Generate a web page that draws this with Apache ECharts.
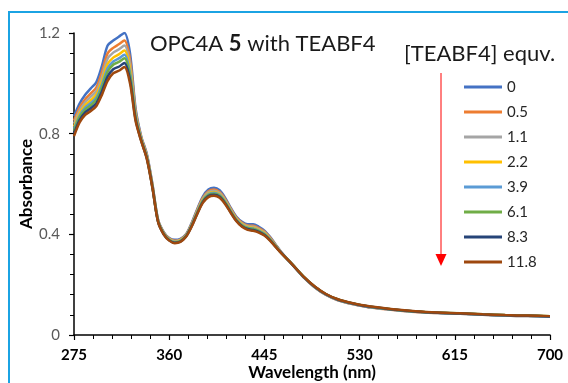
<!DOCTYPE html>
<html>
<head>
<meta charset="utf-8">
<script src="https://cdn.jsdelivr.net/npm/echarts@6/dist/echarts.min.js"></script>
<style>
  html, body { margin: 0; padding: 0; background: #fff; }
  #chart { width: 568px; height: 383px; }
</style>
</head>
<body>
<div id="chart"></div>
<script>
const wavelengths = [275, 280, 285, 290, 295, 300, 305, 310, 315, 320, 325, 330, 335, 340, 345, 350, 355, 360, 365, 370,
  375, 380, 385, 390, 395, 400, 405, 410, 415, 420, 425, 430, 435, 440, 445, 450, 455, 460,
  470, 480, 490, 500, 510, 520, 530, 540, 560, 580, 600, 620, 640, 660, 680, 700]

const equivNames = ['0', '0.5', '1.1', '2.2', '3.9', '6.1', '8.3', '11.8']
const colors = ['#4472C4', '#ED7D31', '#A5A5A5', '#FFC000', '#5B9BD5', '#70AD47', '#264478', '#9E480E']

const abs0 = [.870, .920, .955, .980, 1.005, 1.070, 1.150, 1.170, 1.185, 1.200, 1.120, .900, .790, .720, .600, .460, .410, .385, .378, .382,
  .400, .445, .500, .550, .578, .585, .575, .545, .505, .470, .450, .440, .440, .430, .415, .390, .360, .330,
  .280, .230, .190, .160, .140, .127, .118, .110, .100, .092, .088, .085, .081, .078, .076, .074]
const abs05 = [.852, .904, .937, .960, .984, 1.045, 1.119, 1.141, 1.155, 1.170, 1.094, .889, .786, .716, .597, .458, .408, .383, .375, .379,
  .398, .442, .496, .545, .571, .578, .568, .540, .501, .466, .446, .435, .434, .425, .411, .387, .358, .329,
  .279, .229, .189, .159, .139, .126, .117, .109, .099, .091, .087, .084, .080, .077, .075, .073]
const abs11 = [.840, .892, .925, .947, .970, 1.027, 1.098, 1.122, 1.135, 1.150, 1.076, .882, .783, .713, .594, .456, .406, .381, .373, .378,
  .396, .439, .493, .541, .567, .573, .564, .536, .498, .463, .443, .432, .430, .421, .408, .384, .356, .328,
  .281, .231, .191, .161, .141, .128, .119, .111, .101, .093, .088, .085, .081, .078, .076, .074]
const abs22 = [.828, .881, .913, .933, .956, 1.010, 1.077, 1.102, 1.115, 1.130, 1.058, .874, .780, .710, .592, .455, .405, .380, .371, .376,
  .395, .437, .490, .537, .562, .568, .559, .532, .495, .461, .440, .429, .426, .418, .405, .382, .355, .327,
  .280, .231, .192, .162, .142, .128, .119, .111, .101, .093, .088, .085, .081, .078, .076, .075]
const abs39 = [.819, .872, .904, .922, .944, .996, 1.060, 1.087, 1.099, 1.114, 1.043, .868, .777, .707, .590, .454, .404, .379, .370, .374,
  .394, .435, .487, .534, .559, .565, .556, .529, .492, .458, .437, .426, .423, .415, .402, .380, .354, .327,
  .279, .230, .190, .160, .140, .127, .118, .110, .100, .092, .087, .084, .080, .077, .075, .073]
const abs61 = [.811, .865, .896, .913, .935, .985, 1.046, 1.074, 1.085, 1.100, 1.031, .863, .775, .705, .589, .453, .403, .378, .368, .373,
  .393, .434, .485, .532, .556, .561, .553, .527, .490, .457, .435, .424, .421, .413, .400, .379, .353, .326,
  .281, .232, .192, .162, .142, .129, .120, .112, .101, .093, .089, .086, .082, .079, .077, .075]
const abs83 = [.800, .854, .885, .901, .921, .969, 1.027, 1.056, 1.066, 1.081, 1.014, .856, .772, .702, .587, .451, .401, .376, .367, .371,
  .391, .432, .482, .528, .552, .557, .549, .523, .487, .454, .432, .421, .417, .410, .397, .377, .351, .326,
  .280, .231, .192, .162, .142, .129, .119, .112, .101, .093, .088, .085, .081, .078, .076, .074]
const abs118 = [.790, .845, .875, .890, .910, .955, 1.010, 1.040, 1.050, 1.065, 1.000, .850, .770, .700, .585, .450, .400, .375, .365, .370,
  .390, .430, .480, .525, .548, .553, .545, .520, .485, .452, .430, .418, .414, .407, .395, .375, .350, .325,
  .280, .232, .193, .163, .143, .130, .120, .113, .102, .094, .089, .086, .082, .079, .077, .075]

const absorbance = [abs0, abs05, abs11, abs22, abs39, abs61, abs83, abs118]

const font = 'Lato, "Open Sans", sans-serif'
const chart = echarts.init(document.getElementById('chart'))

chart.setOption({
  animation: false,
  backgroundColor: '#fff',
  color: colors,
  textStyle: { fontFamily: font },
  title: [
    {
      text: 'OPC4A {b|5} with TEABF4',
      left: 145,
      top: 28,
      textStyle: {
        fontFamily: font, fontSize: 22, fontWeight: 'normal', color: '#1a1a1a',
        rich: { b: { fontFamily: font, fontSize: 22, fontWeight: 'bold', color: '#1a1a1a' } },
      },
    },
    {
      text: '[TEABF4] equv.',
      left: 399,
      top: 38,
      textStyle: { fontFamily: font, fontSize: 22, fontWeight: 'normal', color: '#1a1a1a' },
    },
  ],
  legend: {
    orient: 'vertical',
    left: 459,
    top: 74,
    icon: 'rect',
    itemWidth: 38,
    itemHeight: 3,
    itemGap: 9,
    data: equivNames,
    textStyle: { fontFamily: font, fontSize: 15, color: '#262626', lineHeight: 16 },
  },
  grid: { left: 74, right: 18, top: 33, bottom: 48, containLabel: false, outerBoundsMode: 'none' },
  xAxis: {
    type: 'value',
    min: 275,
    max: 700,
    interval: 85,
    name: 'Wavelength (nm)',
    nameLocation: 'middle',
    nameGap: 29,
    nameMoveOverlap: false,
    nameTextStyle: { fontFamily: font, fontSize: 17, fontWeight: 'bold', color: '#000' },
    axisLine: { lineStyle: { color: '#000', width: 1.5 } },
    axisTick: { show: true, length: 5, lineStyle: { color: '#000', width: 1.2 } },
    minorTick: { show: true, splitNumber: 5, length: 4, lineStyle: { color: '#000', width: 1 } },
    axisLabel: { fontFamily: font, fontSize: 15, fontWeight: 'bold', color: '#000', margin: 13 },
    splitLine: { show: false },
  },
  yAxis: {
    type: 'value',
    min: 0,
    max: 1.2,
    interval: 0.4,
    name: 'Absorbance',
    nameLocation: 'middle',
    nameGap: 39,
    nameMoveOverlap: false,
    nameTextStyle: { fontFamily: font, fontSize: 17, fontWeight: 'bold', color: '#000' },
    axisLine: { show: true, lineStyle: { color: '#000', width: 1.5 } },
    axisTick: { show: true, length: 5, lineStyle: { color: '#000', width: 1.2 } },
    minorTick: { show: true, splitNumber: 5, length: 4, lineStyle: { color: '#000', width: 1 } },
    axisLabel: { fontFamily: font, fontSize: 15, color: '#595959', margin: 14 },
    splitLine: { show: false },
  },
  graphic: [
    {
      type: 'rect',
      shape: { x: 9, y: 12, width: 620, height: 420 },
      style: { fill: 'none', stroke: '#1BA3E3', lineWidth: 2 },
      silent: true,
    },
    {
      type: 'line',
      shape: { x1: 441, y1: 73, x2: 441, y2: 256 },
      style: { stroke: '#FF0000', lineWidth: 1 },
      silent: true,
    },
    {
      type: 'polygon',
      shape: { points: [[435.5, 254], [446.5, 254], [441, 266]] },
      style: { fill: '#FF0000' },
      silent: true,
    },
  ],
  series: equivNames.map((name, k) => ({
    name,
    type: 'line',
    data: wavelengths.map((w, i) => [w, absorbance[k][i]]),
    smooth: 0.3,
    showSymbol: false,
    lineStyle: { width: 2.5, color: colors[k] },
    itemStyle: { color: colors[k] },
  })),
})
</script>
</body>
</html>
